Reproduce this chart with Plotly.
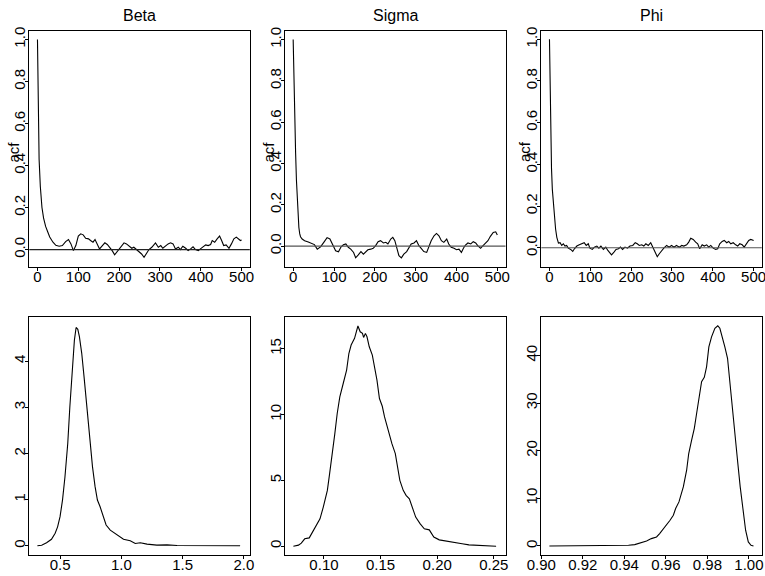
import plotly.graph_objects as go

# ---------------- data ----------------
titles = ["Beta", "Sigma", "Phi"]

beta_lag = [0, 1, 2, 4, 7, 11, 15, 20, 25, 30, 38, 45, 53, 61, 69, 76, 82, 88, 94, 100,
            106, 112, 118, 125, 130, 136, 141, 147, 152, 159, 165, 171, 177, 183, 189, 194, 200, 206, 212, 218,
            224, 231, 236, 242, 249, 255, 261, 266, 273, 280, 285, 289, 296, 302, 307, 314, 320, 326, 332, 338,
            345, 350, 356, 363, 369, 375, 381, 387, 394, 399, 405, 412, 418, 424, 428, 434, 440, 446, 451, 456,
            462, 469, 475, 481, 487, 491, 497, 500]
beta_acf = [1.0, 0.80, 0.65, 0.43, 0.30, 0.20, 0.15, 0.11, 0.085, 0.06, 0.035, 0.02, 0.016, 0.019, 0.038, 0.048, 0.027, -0.005, 0.019, 0.064,
            0.075, 0.07, 0.054, 0.051, 0.043, 0.035, 0.048, 0.027, 0.003, 0.019, 0.032, 0.024, 0.011, -0.005, -0.025, -0.013, 0.003, 0.019, 0.032, 0.027,
            0.016, 0.006, 0.011, 0.0, -0.01, -0.021, -0.037, -0.021, 0.0, 0.011, 0.022, 0.032, 0.011, 0.019, 0.006, 0.019, 0.027, 0.032, 0.027, 0.003,
            0.011, 0.0, 0.016, 0.006, -0.005, 0.003, 0.013, 0.0, -0.005, 0.003, 0.011, 0.022, 0.019, 0.024, 0.043, 0.035, 0.051, 0.064, 0.043, 0.019,
            0.022, 0.006, 0.027, 0.051, 0.059, 0.051, 0.043, 0.045]

sigma_lag = [0, 2, 4, 6, 8, 10, 12, 14, 16, 18, 22, 28, 37, 45, 52, 59, 67, 75, 83, 90,
             96, 104, 111, 117, 123, 129, 135, 141, 148, 153, 159, 166, 172, 178, 183, 190, 196, 202, 208, 214,
             221, 227, 232, 239, 244, 249, 254, 259, 265, 271, 278, 284, 289, 296, 302, 308, 314, 320, 327, 333,
             338, 345, 351, 357, 363, 369, 376, 381, 387, 394, 400, 406, 412, 417, 422, 428, 435, 441, 447, 452,
             459, 465, 471, 477, 483, 490, 496, 500]
sigma_acf = [1.0, 0.78, 0.60, 0.45, 0.32, 0.22, 0.14, 0.09, 0.06, 0.045, 0.034, 0.026, 0.02, 0.013, 0.007, -0.015, -0.004, 0.018, 0.041, 0.034,
             0.01, -0.023, -0.028, -0.005, 0.006, 0.01, -0.006, -0.015, -0.031, -0.057, -0.044, -0.027, -0.039, -0.027, -0.018, -0.015, -0.011, 0.002, 0.021, 0.026,
             0.015, 0.018, 0.01, 0.034, 0.042, 0.026, -0.006, -0.047, -0.057, -0.039, -0.027, -0.006, 0.01, 0.015, 0.026, 0.002, -0.011, -0.027, -0.031, 0.002,
             0.026, 0.05, 0.061, 0.05, 0.026, 0.018, 0.034, 0.01, -0.006, -0.011, -0.018, -0.015, -0.031, -0.011, 0.005, 0.015, 0.01, 0.021, 0.015, 0.002,
             -0.011, 0.002, 0.015, 0.026, 0.047, 0.066, 0.069, 0.053]

phi_lag = [0, 1, 2, 3, 5, 7, 10, 13, 15, 18, 22, 26, 30, 34, 38, 42, 46, 52, 57, 61,
           67, 73, 79, 85, 90, 95, 99, 105, 110, 116, 121, 126, 132, 138, 143, 148, 152, 158, 163, 169,
           174, 179, 185, 191, 197, 204, 210, 215, 220, 226, 231, 236, 242, 248, 253, 258, 264, 269, 275, 280,
           287, 293, 299, 305, 311, 318, 324, 329, 336, 341, 346, 352, 358, 363, 368, 374, 379, 385, 390, 395,
           401, 407, 412, 417, 423, 428, 434, 439, 444, 450, 456, 461, 466, 472, 477, 483, 488, 493, 500]
phi_acf = [1.0, 0.82, 0.65, 0.53, 0.38, 0.28, 0.19, 0.12, 0.09, 0.05, 0.022, 0.024, 0.011, 0.019, 0.008, 0.011, -0.002, -0.008, -0.018, -0.005,
           0.008, 0.014, 0.019, 0.024, 0.011, 0.019, -0.002, -0.008, 0.003, 0.008, -0.002, 0.008, -0.008, 0.003, -0.013, -0.024, -0.034, -0.021, -0.008, -0.005,
           0.003, -0.008, 0.003, -0.002, 0.008, 0.011, 0.024, 0.019, 0.011, 0.014, 0.008, 0.019, 0.011, 0.024, 0.003, -0.018, -0.043, -0.029, -0.013, -0.002,
           0.011, 0.003, 0.011, 0.003, 0.011, 0.003, 0.011, 0.008, 0.014, 0.027, 0.046, 0.04, 0.027, 0.019, -0.005, 0.014, 0.008, 0.014, 0.003, 0.011,
           -0.002, -0.008, -0.005, 0.019, 0.03, 0.035, 0.024, 0.03, 0.019, 0.024, 0.014, 0.008, 0.019, 0.014, 0.003, 0.024, 0.035, 0.04, 0.035]

beta_x = [0.315, 0.35, 0.39, 0.43, 0.46, 0.48, 0.50, 0.52, 0.54, 0.563, 0.58, 0.60, 0.617, 0.631, 0.645, 0.658, 0.677, 0.696, 0.718, 0.74,
          0.765, 0.786, 0.805, 0.827, 0.855, 0.876, 0.91, 0.964, 1.018, 1.073, 1.114, 1.155, 1.21, 1.29, 1.373, 1.455, 1.645, 1.78, 1.97]
beta_d = [0.0, 0.01, 0.065, 0.14, 0.27, 0.41, 0.63, 0.99, 1.49, 2.22, 3.01, 3.80, 4.45, 4.73, 4.69, 4.53, 4.17, 3.66, 3.01, 2.36,
          1.71, 1.28, 0.99, 0.845, 0.59, 0.45, 0.34, 0.23, 0.14, 0.11, 0.05, 0.065, 0.036, 0.014, 0.02, 0.007, 0.0, 0.005, 0.0]

sigma_x = [0.073, 0.0775, 0.080, 0.083, 0.087, 0.090, 0.0936, 0.0965, 0.0994, 0.103, 0.105, 0.1076, 0.1096, 0.1117, 0.114, 0.117, 0.12, 0.122, 0.124, 0.127,
           0.1287, 0.130, 0.132, 0.134, 0.135, 0.1366, 0.138, 0.140, 0.1427, 0.1447, 0.1468, 0.149, 0.1515, 0.1535, 0.1556, 0.158, 0.160, 0.163, 0.165, 0.167,
           0.170, 0.1725, 0.1754, 0.178, 0.181, 0.185, 0.1886, 0.193, 0.197, 0.2018, 0.2076, 0.212, 0.2164, 0.222, 0.228, 0.234, 0.2398, 0.2456, 0.252]
sigma_d = [0.0, 0.08, 0.23, 0.56, 0.63, 1.07, 1.70, 2.08, 2.97, 4.24, 5.51, 7.03, 8.55, 10.08, 11.35, 12.36, 13.38, 14.64, 15.28, 15.79,
           16.42, 16.73, 16.29, 16.17, 15.86, 16.17, 15.91, 15.15, 14.52, 13.63, 12.61, 11.22, 10.63, 9.82, 9.19, 8.30, 7.79, 7.03, 6.02, 5.0,
           4.24, 3.86, 3.60, 2.97, 2.21, 1.70, 1.32, 1.24, 0.69, 0.48, 0.38, 0.33, 0.23, 0.18, 0.10, 0.08, 0.08, 0.05, 0.0]

phi_x = [0.9039, 0.9146, 0.924, 0.9307, 0.937, 0.942, 0.945, 0.948, 0.9507, 0.953, 0.9555, 0.957, 0.9596, 0.962, 0.9636, 0.9647, 0.9663, 0.9684, 0.970, 0.971,
         0.9724, 0.9737, 0.9748, 0.976, 0.9772, 0.9785, 0.9796, 0.9807, 0.982, 0.9836, 0.985, 0.986, 0.9872, 0.9884, 0.9897, 0.9908, 0.992, 0.9932, 0.9945, 0.9958,
         0.9971, 0.9984, 0.9997, 1.001, 1.0022]
phi_d = [0.0, 0.0, 0.0, 0.07, 0.07, 0.14, 0.28, 0.63, 1.05, 1.54, 1.89, 2.59, 3.99, 5.39, 6.44, 7.85, 9.25, 12.4, 15.9, 19.4,
         22.2, 24.7, 27.8, 31.3, 34.5, 35.4, 37.6, 41.8, 43.9, 45.7, 46.2, 45.7, 43.9, 41.8, 39.4, 34.8, 29.2, 23.6, 18.0, 12.4,
         7.5, 3.3, 0.84, 0.14, 0.0]

acf_ticks = [0.0, 0.2, 0.4, 0.6, 0.8, 1.0]
acf_ticklabels = ["0.0", "0.2", "0.4", "0.6", "0.8", "1.0"]
lag_ticks = [0, 100, 200, 300, 400, 500]

dens_xticks = [[0.5, 1.0, 1.5, 2.0], [0.10, 0.15, 0.20, 0.25], [0.90, 0.92, 0.94, 0.96, 0.98, 1.00]]
dens_xlabels = [["0.5", "1.0", "1.5", "2.0"], ["0.10", "0.15", "0.20", "0.25"],
                ["0.90", "0.92", "0.94", "0.96", "0.98", "1.00"]]
dens_yticks = [[0, 1, 2, 3, 4], [0, 5, 10, 15], [0, 10, 20, 30, 40]]

acf_series = [(beta_lag, beta_acf), (sigma_lag, sigma_acf), (phi_lag, phi_acf)]
dens_series = [(beta_x, beta_d), (sigma_x, sigma_d), (phi_x, phi_d)]
for a, b in acf_series + dens_series:
    assert len(a) == len(b), (len(a), len(b))

# ---------------- layout geometry ----------------
W, H = 765, 576
col_left = [29.3, 285.0, 541.3]
panel_w = 220.5
top_row = (30.7, 266.7)
bot_row = (317.3, 555.0)

acf_yrange = [[-0.0816, 1.0416], [-0.100, 1.043], [-0.091, 1.041]]
dens_xrange = [[0.249, 2.049], [0.0656, 0.2603], [0.900, 1.0062]]
dens_yrange = [[-0.2, 4.95], [-0.67, 17.39], [-1.9, 48.0]]
zero_colors = ["#222222", "#555555", "#555555"]

FONT = "Liberation Sans, Arial, Helvetica, sans-serif"
fig = go.Figure()

def axis_common():
    return dict(showgrid=False, zeroline=False, showline=True, mirror=True,
                linecolor="black", linewidth=1, ticks="outside", ticklen=3,
                tickcolor="black", tickwidth=1, automargin=False,
                ticklabeloverflow="allow",
                tickfont=dict(family=FONT, size=15, color="black"))

layout = dict(width=W, height=H, autosize=False, showlegend=False,
              margin=dict(l=0, r=0, t=0, b=0, pad=0),
              paper_bgcolor="white", plot_bgcolor="white")
annotations = []
shapes = []

for i in range(6):
    row = i // 3
    col = i % 3
    n = i + 1
    xa = "xaxis" if n == 1 else f"xaxis{n}"
    ya = "yaxis" if n == 1 else f"yaxis{n}"
    xref = "x" if n == 1 else f"x{n}"
    yref = "y" if n == 1 else f"y{n}"
    x0 = col_left[col] / W
    x1 = (col_left[col] + panel_w) / W
    ytop, ybot = top_row if row == 0 else bot_row
    y0 = 1 - ybot / H
    y1 = 1 - ytop / H

    xd = axis_common()
    yd = axis_common()
    xd.update(domain=[x0, x1], anchor=yref, ticklabelstandoff=-7)
    yd.update(domain=[y0, y1], anchor=xref, tickangle=-90, ticklabelstandoff=-6)

    if row == 0:
        lx, ly = acf_series[col]
        fig.add_trace(go.Scatter(x=lx, y=ly, mode="lines", xaxis=xref, yaxis=yref,
                                 line=dict(color="black", width=1.1), hoverinfo="skip"))
        xd.update(range=[-20, 520], tickvals=lag_ticks)
        yd.update(range=acf_yrange[col], tickvals=acf_ticks, ticktext=acf_ticklabels)
        shapes.append(dict(type="line", xref=f"{xref} domain", yref=yref,
                           x0=0, x1=1, y0=0, y1=0,
                           line=dict(color=zero_colors[col], width=1.2)))
        annotations.append(dict(text=titles[col], xref="paper", yref="paper",
                                x=(x0 + x1) / 2, y=1 - 15.7 / H,
                                xanchor="center", yanchor="middle", showarrow=False,
                                font=dict(family=FONT, size=16, color="black")))
        acf_x = [13.5, 268.5, 525.0][col]
        annotations.append(dict(text="acf", xref="paper", yref="paper",
                                x=acf_x / W, y=1 - 152 / H, textangle=-90,
                                xanchor="center", yanchor="middle", showarrow=False,
                                font=dict(family=FONT, size=15, color="black")))
    else:
        dx, dy = dens_series[col]
        fig.add_trace(go.Scatter(x=dx, y=dy, mode="lines", xaxis=xref, yaxis=yref,
                                 line=dict(color="black", width=1.1), hoverinfo="skip"))
        xd.update(range=dens_xrange[col], tickvals=dens_xticks[col], ticktext=dens_xlabels[col])
        yd.update(range=dens_yrange[col], tickvals=dens_yticks[col])

    layout[xa] = xd
    layout[ya] = yd

layout["annotations"] = annotations
layout["shapes"] = shapes
fig.update_layout(**layout)
fig.write_html("out.html", config={"displayModeBar": False},
               post_script="document.body.style.margin='0px';document.body.style.overflow='hidden';")
